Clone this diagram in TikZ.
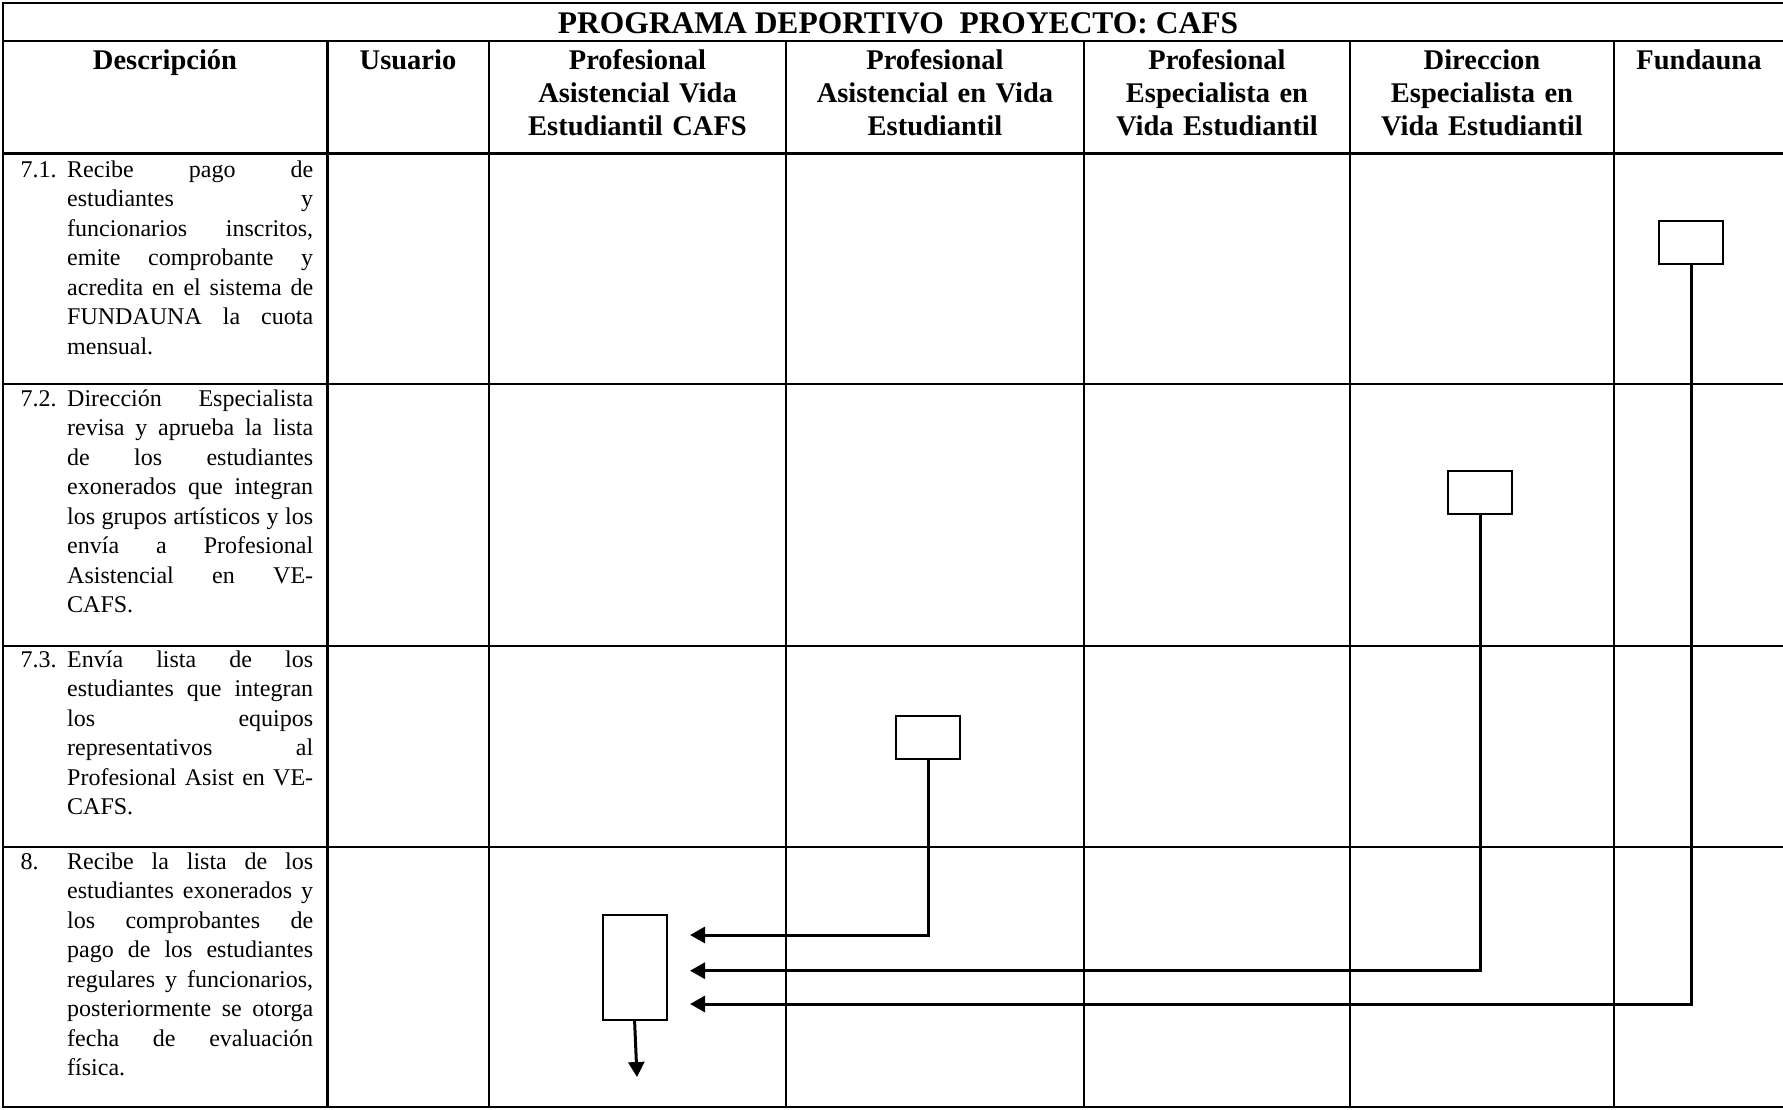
\documentclass[tikz,border=0pt]{standalone}
\usepackage{fontspec}
\setmainfont{Liberation Serif}
\usetikzlibrary{arrows.meta}
\usetikzlibrary{positioning}
\tolerance=10000
\hbadness=10000
\hyphenpenalty=10000
\newcommand{\ttlfont}{\fontsize{31.5}{36}\selectfont\bfseries}
\newcommand{\hdfont}{\fontsize{28.5}{33}\selectfont\bfseries}
\newcommand{\txfont}{\fontsize{24}{29.5}\selectfont}

\begin{document}
\begin{tikzpicture}[x=1pt,y=-1pt]
\useasboundingbox (0,0) rectangle (1783,1109);

% grid
\begin{scope}[line width=2.8pt,line cap=rect]
    \foreach \y in {3,41,153.5,384,646,847,1107}
        \draw (3,\y) -- (1790,\y);
    \foreach \x in {327.5,489,786,1084,1350,1614}
        \draw (\x,41) -- (\x,1107);
    \draw (3,3) -- (3,1107);
\end{scope}

% headings
\node[font=\ttlfont,anchor=base,inner sep=0] (title) at (898,33) {PROGRAMA DEPORTIVO\ \ PROYECTO: CAFS};
\begin{scope}[every node/.style={font=\hdfont,align=center,text width=280pt,anchor=base,inner sep=0}]
    \node (hDesc) at (165,69) {Descripción};
    \node (hUser) at (408,69) {Usuario};
    \node (hPaC) at (637.5,69) {Profesional\\Asistencial Vida\\Estudiantil CAFS};
    \node (hPaV) at (935,69) {Profesional\\Asistencial en Vida\\Estudiantil};
    \node (hPeV) at (1217,69) {Profesional\\Especialista en\\Vida Estudiantil};
    \node (hDir) at (1482,69) {Direccion\\Especialista en\\Vida Estudiantil};
    \node (hFund) at (1699,69) {Fundauna};
\end{scope}

% steps
\begin{scope}[every node/.style={font=\txfont,anchor=base west,inner sep=0}]
    \node (n71) at (20.5,177) {7.1.};
    \node[text width=246pt,align=justify] (t71) at (67,177) {Recibe pago de\linebreak
        estudiantes y\linebreak funcionarios inscritos,\linebreak emite comprobante y\linebreak
        acredita en el sistema de\linebreak FUNDAUNA la cuota\linebreak mensual.};
    \node (n72) at (20.5,406) {7.2.};
    \node[text width=246pt,align=justify] (t72) at (67,406) {Dirección Especialista\linebreak
        revisa y aprueba la lista\linebreak de los estudiantes\linebreak exonerados que integran\linebreak
        los grupos artísticos y los\linebreak envía a Profesional\linebreak Asistencial en VE-\linebreak CAFS.};
    \node (n73) at (20.5,667) {7.3.};
    \node[text width=246pt,align=justify] (t73) at (67,667) {Envía lista de los\linebreak
        estudiantes que integran\linebreak los equipos\linebreak representativos al\linebreak
        Profesional Asist en VE-\linebreak CAFS.};
    \node (n8) at (20.5,869) {8.};
    \node[text width=246pt,align=justify] (t8) at (67,869) {Recibe la lista de los\linebreak
        estudiantes exonerados y\linebreak los comprobantes de\linebreak pago de los estudiantes\linebreak
        regulares y funcionarios,\linebreak posteriormente se otorga\linebreak fecha de evaluación\linebreak física.};
\end{scope}

% activity boxes
\begin{scope}[every node/.style={draw,line width=2pt,minimum width=64pt,minimum height=43pt,inner sep=0}]
    \node (fundBox) at (1691,242.5) {};
    \node (dirBox) at (1480,492.5) {};
    \node (asistBox) at (928,737) {};
    \node[minimum height=105pt] (recBox) at (634.6,967.5) {};
\end{scope}

\coordinate (inA) at (690,935);
\coordinate (inB) at (690,970.7);
\coordinate (inC) at (690,1004);
\coordinate (nextStep) at (637,1077);

\begin{scope}[line width=3pt,>={Triangle[length=15pt,width=16pt]}]
    \draw[->] (asistBox.south) |- (inA);
    \draw[->] (dirBox.south) |- (inB);
    \draw[->] (fundBox.south) |- (inC);
    \draw[->] (recBox.south) -- (nextStep);
\end{scope}
\end{tikzpicture}
\end{document}
